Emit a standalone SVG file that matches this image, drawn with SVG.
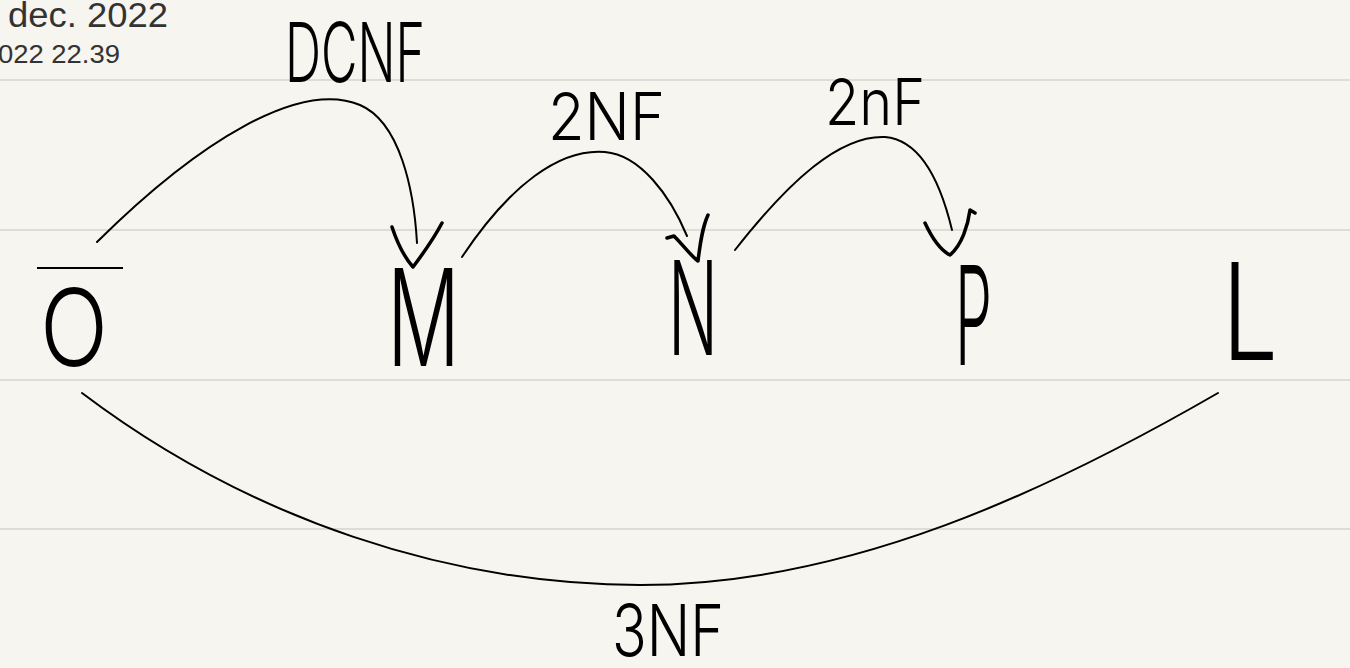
<svg xmlns="http://www.w3.org/2000/svg" width="1350" height="668" viewBox="0 0 1350 668">
<style>
.rule{stroke:#d4d3cf;stroke-width:1.5}
.ink{fill:none;stroke:#000;stroke-width:2;stroke-linecap:round;stroke-linejoin:round}
.head{fill:none;stroke:#000;stroke-width:3.5;stroke-linecap:round;stroke-linejoin:round}
.hand{font-family:Inter,"Liberation Sans",sans-serif;font-weight:300;fill:#000}
.meta{font-family:"Liberation Sans",Arial,sans-serif;fill:#333}
</style>
<rect width="1350" height="668" fill="#f7f5ef"/>
<g id="rules">
<line class="rule" x1="0" y1="80" x2="1350" y2="80"/>
<line class="rule" x1="0" y1="230" x2="1350" y2="230"/>
<line class="rule" x1="0" y1="380" x2="1350" y2="380"/>
<line class="rule" x1="0" y1="529" x2="1350" y2="529"/>
</g>
<g id="header">
<text class="meta" x="8" y="27" font-size="35" textLength="160" lengthAdjust="spacingAndGlyphs">dec. 2022</text>
<text class="meta" x="-2" y="63" font-size="26" textLength="122" lengthAdjust="spacingAndGlyphs">022 22.39</text>
</g>
<g id="connectors">
<path class="ink" d="M97,242 C200,140 300,80 360,105 C400,122 414,190 417,243"/>
<path class="head" d="M392,227 C398,245 405,258 413,267 C422,255 433,240 442,223"/>
<path class="ink" d="M462,257 C510,185 560,148 605,152 C640,155 670,195 687,236"/>
<path class="head" d="M667,238 L674,236 C683,245 690,255 698,261 C700,245 702,228 708,215"/>
<path class="ink" d="M735,250 C790,180 840,135 885,137 C920,140 940,180 952,230"/>
<path class="head" d="M925,223 C932,238 940,250 950,255 C962,245 968,225 970,210 L975,213"/>
<path class="ink" d="M82,393 C250,520 450,585 640,585 C850,585 1050,490 1218,393"/>
</g>
<g id="node-O">
<line x1="37" y1="268" x2="123" y2="268" stroke="#000" stroke-width="2"/>
<text class="hand" x="40" y="366" font-size="107" textLength="68" lengthAdjust="spacingAndGlyphs">O</text>
</g>
<g id="node-M">
<text class="hand" x="387" y="366" font-size="135" textLength="73" lengthAdjust="spacingAndGlyphs">M</text>
</g>
<g id="node-N">
<text class="hand" x="668" y="355" font-size="130" textLength="50" lengthAdjust="spacingAndGlyphs">N</text>
</g>
<g id="node-P">
<text class="hand" x="955" y="365" font-size="137" textLength="37" lengthAdjust="spacingAndGlyphs">P</text>
</g>
<g id="node-L">
<text class="hand" x="1222" y="360" font-size="135" textLength="56" lengthAdjust="spacingAndGlyphs">L</text>
</g>
<g id="labels">
<text class="hand" x="285" y="82" font-size="82" textLength="140" lengthAdjust="spacingAndGlyphs">DCNF</text>
<text class="hand" x="548" y="140" font-size="66" textLength="117" lengthAdjust="spacingAndGlyphs">2NF</text>
<text class="hand" x="825" y="125" font-size="64" textLength="100" lengthAdjust="spacingAndGlyphs">2nF</text>
<text class="hand" x="612" y="656" font-size="72" textLength="112" lengthAdjust="spacingAndGlyphs">3NF</text>
</g>
</svg>
